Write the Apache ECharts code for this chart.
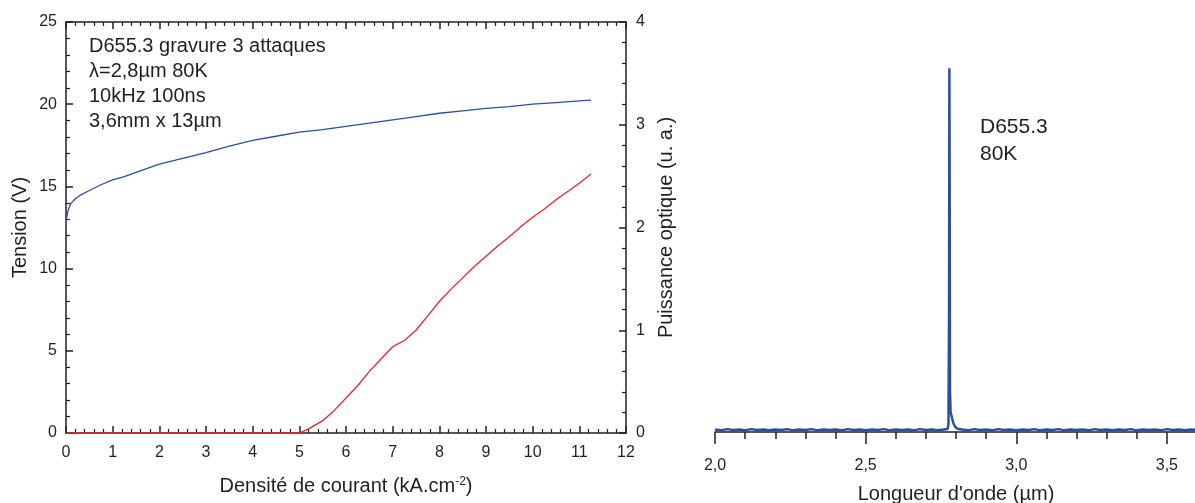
<!DOCTYPE html>
<html>
<head>
<meta charset="utf-8">
<script src="https://cdn.jsdelivr.net/npm/echarts@6/dist/echarts.min.js"></script>
<style>html,body{margin:0;padding:0;background:#fff}#c{width:1195px;height:503px}</style>
</head>
<body>
<div id="c"></div>
<script>
// Left chart: current density (kA/cm2) vs voltage (V)
const densite = [0, 0.05, 0.1, 0.2, 0.3, 0.5, 0.75, 1.0, 1.25, 1.5, 2, 2.5, 3, 3.5, 4, 4.5, 5, 5.5, 6, 6.5, 7, 7.5, 8, 8.5, 9, 9.5, 10, 10.5, 11, 11.25];
const tension = [12.9, 13.6, 13.95, 14.25, 14.45, 14.75, 15.1, 15.4, 15.6, 15.85, 16.35, 16.7, 17.05, 17.45, 17.8, 18.05, 18.3, 18.45, 18.65, 18.85, 19.05, 19.25, 19.45, 19.6, 19.75, 19.85, 20.0, 20.1, 20.2, 20.25];
// Left chart: current density vs optical power (a.u.)
const densiteP = [0, 1, 2, 3, 4, 5, 5.2, 5.5, 5.75, 6, 6.25, 6.5, 6.75, 7, 7.25, 7.5, 7.75, 8, 8.25, 8.5, 8.75, 9, 9.25, 9.5, 9.75, 10, 10.25, 10.5, 10.75, 11, 11.25];
const puissance = [0, 0, 0, 0, 0, 0, 0.04, 0.12, 0.22, 0.34, 0.46, 0.6, 0.72, 0.84, 0.9, 1.0, 1.14, 1.28, 1.4, 1.51, 1.62, 1.72, 1.82, 1.91, 2.01, 2.1, 2.18, 2.27, 2.35, 2.43, 2.52];
// Right chart: spectrum
const wavelength = [2.00,2.02,2.04,2.06,2.08,2.10,2.12,2.14,2.16,2.18,2.20,2.22,2.24,2.26,2.28,2.30,2.32,2.34,2.36,2.38,2.40,2.42,2.44,2.46,2.48,2.50,2.52,2.54,2.56,2.58,2.60,2.62,2.64,2.66,2.68,2.70,2.72,2.74,2.76,
  2.772,2.775,2.777,2.778,2.779,2.780,2.782,2.785,2.788,2.792,2.798,2.805,
  2.82,2.84,2.86,2.88,2.90,2.92,2.94,2.96,2.98,3.00,3.02,3.04,3.06,3.08,3.10,3.12,3.14,3.16,3.18,3.20,3.22,3.24,3.26,3.28,3.30,3.32,3.34,3.36,3.38,3.40,3.42,3.44,3.46,3.48,3.50,3.52,3.54,3.56,3.58,3.60];
const intensity = [0.006,0.004,0.007,0.005,0.006,0.004,0.007,0.005,0.006,0.004,0.006,0.005,0.007,0.004,0.006,0.005,0.007,0.004,0.006,0.005,0.006,0.004,0.007,0.005,0.006,0.004,0.006,0.005,0.007,0.004,0.006,0.005,0.006,0.004,0.007,0.005,0.006,0.004,0.006,
  0.007,0.02,0.3,0.883,0.6,0.1,0.048,0.04,0.03,0.02,0.012,0.008,
  0.006,0.004,0.007,0.005,0.006,0.004,0.007,0.005,0.006,0.004,0.006,0.005,0.007,0.004,0.006,0.005,0.007,0.004,0.006,0.005,0.006,0.004,0.007,0.005,0.006,0.004,0.006,0.005,0.007,0.004,0.006,0.005,0.006,0.004,0.007,0.005,0.006,0.004,0.006,0.005];

const pairs = (xs, ys) => xs.map((x, i) => [x, ys[i]]);
const TXT = '#231f20';
const FONT = '"Liberation Sans", Arial, sans-serif';
const line = {show: true, onZero: false, lineStyle: {color: TXT, width: 1.5}};
const tickIn = {show: true, inside: true, length: 7, lineStyle: {color: TXT, width: 1.5}};
const minorIn = {show: true, splitNumber: 5, length: 4, lineStyle: {color: TXT, width: 1.2}};

const chart = echarts.init(document.getElementById('c'));
chart.setOption({
  animation: false,
  textStyle: {fontFamily: FONT, color: TXT},
  grid: [
    {left: 66, top: 22, width: 560, height: 411, containLabel: false, outerBoundsMode: 'none'},
    {left: 715, top: 20, width: 482, height: 412, containLabel: false, outerBoundsMode: 'none'}
  ],
  xAxis: [
    {gridIndex: 0, type: 'value', position: 'bottom', min: 0, max: 12, interval: 1,
     axisLine: line, axisTick: tickIn, minorTick: minorIn, splitLine: {show: false},
     axisLabel: {margin: 12, fontSize: 16, color: TXT, fontFamily: FONT},
     name: '{a|Densité de courant (kA.cm}{s|-2}{a|)}', nameLocation: 'middle', nameGap: 43,
     nameTextStyle: {rich: {a: {fontSize: 20, color: TXT, fontFamily: FONT}, s: {fontSize: 12, color: TXT, fontFamily: FONT, verticalAlign: 'top'}}}},
    {gridIndex: 0, type: 'value', position: 'top', min: 0, max: 12, interval: 1,
     axisLine: line, axisTick: tickIn, minorTick: minorIn, splitLine: {show: false},
     axisLabel: {show: false}},
    {gridIndex: 1, type: 'value', position: 'bottom', min: 2, max: 3.6, interval: 0.5,
     axisLine: line, axisTick: {show: true, inside: false, length: 12, lineStyle: {color: TXT, width: 1.5}},
     splitLine: {show: false},
     axisLabel: {margin: 26, fontSize: 16, color: TXT, fontFamily: FONT, showMaxLabel: false,
       formatter: v => v.toFixed(1).replace('.', ',')},
     name: 'Longueur d\'onde (µm)', nameLocation: 'middle', nameGap: 52,
     nameTextStyle: {fontSize: 20, color: TXT, fontFamily: FONT}},
    {gridIndex: 1, type: 'value', position: 'bottom', min: 2, max: 3.6, interval: 0.1,
     axisLine: {show: false, onZero: false}, axisTick: {show: true, inside: false, length: 7, lineStyle: {color: TXT, width: 1.5}},
     splitLine: {show: false}, axisLabel: {show: false}}
  ],
  yAxis: [
    {gridIndex: 0, type: 'value', position: 'left', min: 0, max: 25, interval: 5,
     axisLine: line, axisTick: tickIn, minorTick: minorIn, splitLine: {show: false},
     axisLabel: {margin: 9, fontSize: 16, color: TXT, fontFamily: FONT},
     name: 'Tension (V)', nameLocation: 'middle', nameGap: 36,
     nameTextStyle: {fontSize: 20, color: TXT, fontFamily: FONT}},
    {gridIndex: 0, type: 'value', position: 'right', min: 0, max: 4, interval: 1,
     axisLine: line, axisTick: tickIn, minorTick: minorIn, splitLine: {show: false},
     axisLabel: {margin: 10, fontSize: 16, color: TXT, fontFamily: FONT},
     name: 'Puissance optique (u. a.)', nameLocation: 'middle', nameGap: 30,
     nameTextStyle: {fontSize: 20, color: TXT, fontFamily: FONT}},
    {gridIndex: 1, type: 'value', min: 0, max: 1, show: false}
  ],
  series: [
    {type: 'line', xAxisIndex: 0, yAxisIndex: 0, data: pairs(densite, tension), symbol: 'none',
     lineStyle: {color: '#2b4ea3', width: 1.3}, z: 3},
    {type: 'line', xAxisIndex: 0, yAxisIndex: 1, data: pairs(densiteP, puissance), symbol: 'none',
     lineStyle: {color: '#e8262c', width: 1.3}, z: 3},
    {type: 'line', xAxisIndex: 2, yAxisIndex: 2, data: pairs(wavelength, intensity), symbol: 'none',
     lineStyle: {color: '#2b4ea3', width: 2.5}, z: 3}
  ],
  graphic: [
    {type: 'text', left: 89, top: 34, style: {text: 'D655.3 gravure 3 attaques\nλ=2,8µm 80K\n10kHz 100ns\n3,6mm x 13µm',
      fontSize: 20, fontFamily: FONT, fill: TXT, lineHeight: 25}},
    {type: 'text', left: 980, top: 114, style: {text: 'D655.3\n80K',
      fontSize: 21, fontFamily: FONT, fill: TXT, lineHeight: 26.5}}
  ]
});
</script>
</body>
</html>
